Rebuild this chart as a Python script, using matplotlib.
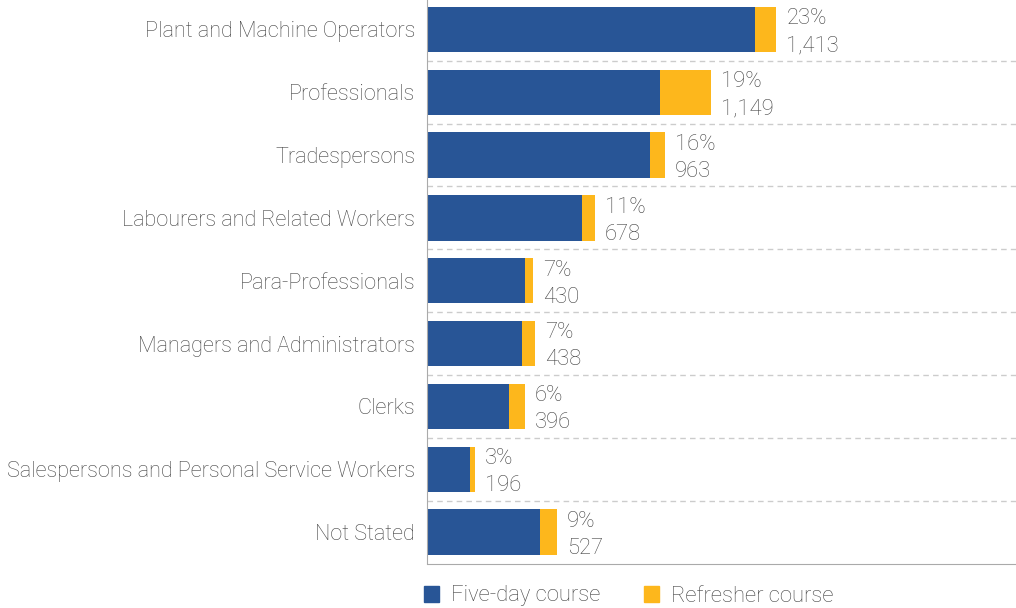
import matplotlib
matplotlib.use("Agg")
import matplotlib.pyplot as plt
from matplotlib.patches import Patch

plt.rcParams['font.family'] = ['Roboto', 'DejaVu Sans']

categories = ["Plant and Machine Operators", "Professionals", "Tradespersons",
              "Labourers and Related Workers", "Para-Professionals",
              "Managers and Administrators", "Clerks",
              "Salespersons and Personal Service Workers", "Not Stated"]
five_day = [1328, 943, 903, 627, 397, 385, 333, 175, 458]
totals = [1413, 1149, 963, 678, 430, 438, 396, 196, 527]
refresher = [t - f for t, f in zip(totals, five_day)]
percents = ["23%", "19%", "16%", "11%", "7%", "7%", "6%", "3%", "9%"]

BLUE = "#285596"
GOLD = "#fdb71c"
TXT = "#444444"
FS = 15.8

fig = plt.figure(figsize=(10.16, 6.08), dpi=100)
ax = fig.add_axes([427 / 1016, (608 - 563.5) / 608, 589 / 1016, 565.5 / 608])

y = list(range(len(categories)))
ax.barh(y, five_day, height=0.72, color=BLUE)
ax.barh(y, refresher, left=five_day, height=0.72, color=GOLD)

for i in y:
    ax.text(totals[i] + 40, i - 0.17, percents[i], ha="left", va="center",
            fontsize=FS, color=TXT, fontweight="light")
    ax.text(totals[i] + 40, i + 0.26, f"{totals[i]:,}", ha="left", va="center",
            fontsize=FS, color=TXT, fontweight="light")

# dashed separators between rows
for b in range(len(categories) - 1):
    ax.axhline(b + 0.5, color="#cccccc", lw=1, ls=(0, (4, 3)), zorder=0)

ax.set_ylim(len(categories) - 0.5, -0.5)
ax.set_xlim(0, 589 / 0.2473)
ax.set_yticks(y)
ax.set_yticklabels(categories, fontsize=15.6, color=TXT, fontweight="light")
ax.tick_params(axis="y", length=0, pad=8.5)
ax.set_xticks([])
for s in ["top", "right"]:
    ax.spines[s].set_visible(False)
ax.spines["left"].set_color("#aaaaaa")
ax.spines["bottom"].set_color("#aaaaaa")

handles = [Patch(color=BLUE, label="Five-day course"),
           Patch(color=GOLD, label="Refresher course")]
fig.legend(handles=handles, loc="center left",
           bbox_to_anchor=(424 / 1016, 1 - 596 / 608),
           ncol=2, frameon=False, prop={"size": FS, "weight": "light"},
           labelcolor=TXT, handlelength=0.7, handleheight=0.7,
           columnspacing=1.95, handletextpad=0.55, borderpad=0, borderaxespad=0)

fig.savefig("out.png", dpi=100)
